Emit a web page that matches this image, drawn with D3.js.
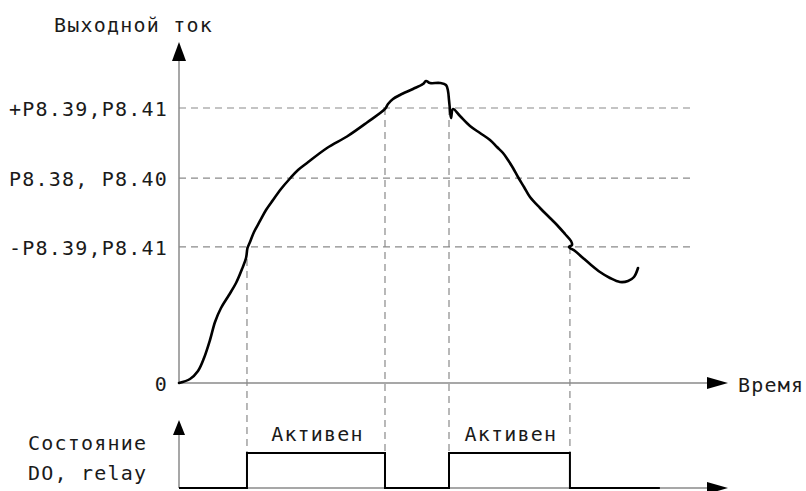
<!DOCTYPE html>
<html>
<head>
<meta charset="utf-8">
<script src="https://cdn.jsdelivr.net/npm/d3@7"></script>
<style>
  html, body { margin: 0; padding: 0; background: #fff; }
  svg { display: block; }
  text { font-family: "DejaVu Sans Mono", "Liberation Mono", monospace; font-size: 20px; letter-spacing: 1.2px; fill: #1a1a1a; }
</style>
</head>
<body>
<svg id="chart" width="806" height="491"></svg>
<script>
// Output current threshold levels (arbitrary units) and their labels
const levelValues = [0, 39.6, 59.6, 80];
const levelLabels = ["0", "-P8.39,P8.41", "P8.38, P8.40", "+P8.39,P8.41"];

// Output current over time
const curveTime = [
  0, 2.08, 3.59, 4.73, 5.86, 6.81, 7.94, 9.45, 10.78, 11.91,
  12.67, 12.95, 13.42, 14.18, 15.31, 16.45, 17.77, 19.28, 20.98, 22.50,
  24.20, 27.98, 31.76, 35.54, 38.94, 39.51, 40.45, 41.78, 44.23, 46.12,
  46.69, 47.45, 49.34, 50.47, 50.85, 51.04, 51.23, 51.42, 51.80, 53.12,
  55.01, 56.90, 58.79, 60.11, 61.25, 62.19, 63.14, 64.08, 65.22, 66.35,
  68.24, 70.13, 71.46, 72.97, 74.10, 74.29, 73.72, 74.86, 76.37, 77.69,
  79.58, 81.47, 83.36, 84.88, 86.01, 86.77];
const curveValue = [
  0, 1.16, 3.49, 7.27, 12.51, 17.75, 21.82, 25.60, 29.09, 33.16,
  36.36, 39.27, 41.02, 43.93, 47.13, 50.33, 53.24, 56.44, 59.49, 61.96,
  64.00, 68.36, 71.71, 75.78, 79.71, 81.16, 82.62, 83.78, 85.53, 86.98,
  87.85, 87.27, 87.27, 86.69, 84.95, 82.33, 79.42, 77.09, 79.71, 77.67,
  74.76, 72.73, 70.69, 68.65, 66.91, 64.87, 62.55, 59.93, 57.02, 54.11,
  50.91, 48.00, 45.96, 43.35, 41.31, 40.15, 39.56, 38.40, 36.36, 34.62,
  32.29, 30.55, 29.38, 29.67, 30.84, 33.45];

// Moments where the current crosses a threshold and the output switches
const switchTimes = [12.85, 38.94, 51.04, 73.9];
const switchLevels = [39.6, 80, 80, 39.6];

// DO / relay state (0 = off, 1 = active)
const stateTimes = [0, 12.85, 12.85, 38.94, 38.94, 51.04, 51.04, 73.9, 73.9, 90.9];
const stateValues = [0, 0, 1, 1, 0, 0, 1, 1, 0, 0];
const activeLabel = "Активен";

const gridEnd = 97.5;

const svg = d3.select("#chart");
const gray = "#8a8a8a";

const x = d3.scaleLinear().domain([0, 100]).range([179, 708]);
const y = d3.scaleLinear().domain([0, 100]).range([383, 39.25]);
const yState = d3.scaleLinear().domain([0, 1]).range([488, 453]);

// dashed threshold lines
svg.append("g").selectAll("line")
  .data(levelValues.filter(v => v > 0))
  .join("line")
  .attr("x1", x(0)).attr("x2", x(gridEnd))
  .attr("y1", d => y(d)).attr("y2", d => y(d))
  .attr("stroke", gray).attr("stroke-width", 1.2).attr("stroke-dasharray", "7,5");

// dashed switch markers, down to the relay pulse top
svg.append("g").selectAll("line")
  .data(switchTimes)
  .join("line")
  .attr("x1", d => x(d)).attr("x2", d => x(d))
  .attr("y1", (d, i) => y(switchLevels[i]))
  .attr("y2", yState(1))
  .attr("stroke", gray).attr("stroke-width", 1.2).attr("stroke-dasharray", "7,5");

// axes with arrowheads
function arrow(tipX, tipY, dir, len, half) {
  let pts;
  if (dir === "up") pts = [[tipX, tipY], [tipX - half, tipY + len], [tipX + half, tipY + len]];
  else pts = [[tipX, tipY], [tipX - len, tipY - half], [tipX - len, tipY + half]];
  svg.append("path").attr("d", "M" + pts.join("L") + "Z").attr("fill", "#000");
}
// main panel
svg.append("line").attr("x1", x(0)).attr("x2", x(0)).attr("y1", y(0)).attr("y2", 55)
  .attr("stroke", gray).attr("stroke-width", 1.5);
arrow(x(0), 42, "up", 19, 7);
svg.append("line").attr("x1", x(0)).attr("x2", x(100)).attr("y1", y(0)).attr("y2", y(0))
  .attr("stroke", gray).attr("stroke-width", 1.5);
arrow(x(100) + 20, y(0), "right", 21, 6);
// state panel
svg.append("line").attr("x1", x(0)).attr("x2", x(0)).attr("y1", yState(0)).attr("y2", 432)
  .attr("stroke", gray).attr("stroke-width", 1.5);
arrow(x(0), 420, "up", 15, 6);
svg.append("line").attr("x1", x(0)).attr("x2", x(100)).attr("y1", yState(0)).attr("y2", yState(0))
  .attr("stroke", gray).attr("stroke-width", 1.5);
arrow(x(100) + 20, yState(0), "right", 21, 6);

// threshold labels on the current axis
const yAxis = d3.axisLeft(y).tickValues(levelValues)
  .tickFormat((d, i) => levelLabels[i]).tickSize(0).tickPadding(11);
const ag = svg.append("g").attr("transform", `translate(${x(0)},0)`).call(yAxis);
ag.select(".domain").remove();
ag.attr("font-family", null).attr("font-size", null);
ag.selectAll("text").attr("dy", "0.37em");

// current curve
const line = d3.line()
  .x((d, i) => x(curveTime[i]))
  .y((d, i) => y(curveValue[i]))
  .curve(d3.curveCatmullRom.alpha(0.5));
svg.append("path").attr("d", line(curveTime))
  .attr("fill", "none").attr("stroke", "#000").attr("stroke-width", 2.6)
  .attr("stroke-linejoin", "round").attr("stroke-linecap", "round");

// relay state trace
const stateLine = d3.line()
  .x((d, i) => x(stateTimes[i]))
  .y((d, i) => yState(stateValues[i]));
svg.append("path").attr("d", stateLine(stateTimes))
  .attr("fill", "none").attr("stroke", "#000").attr("stroke-width", 2);

// "Активен" over each active interval
const intervals = [[switchTimes[0], switchTimes[1]], [switchTimes[2], switchTimes[3]]];
svg.append("g").selectAll("text").data(intervals).join("text")
  .attr("x", d => x((d[0] + d[1]) / 2) + 1.5)
  .attr("y", 440.5)
  .attr("text-anchor", "middle")
  .text(activeLabel);

// axis titles
svg.append("text").attr("x", 54).attr("y", 32).text("Выходной ток");
svg.append("text").attr("x", 738).attr("y", 391.5).text("Время");
svg.append("text").attr("x", 28).attr("y", 450).text("Состояние");
svg.append("text").attr("x", 28).attr("y", 480).text("DO, relay");
</script>
</body>
</html>
